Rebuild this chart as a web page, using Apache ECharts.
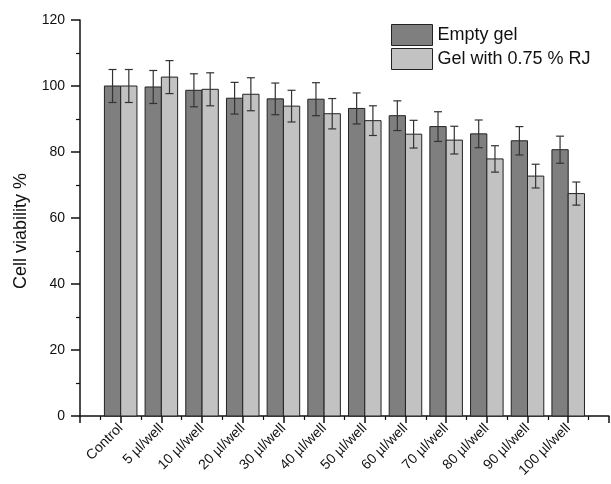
<!DOCTYPE html>
<html>
<head>
<meta charset="utf-8">
<script src="https://cdn.jsdelivr.net/npm/echarts@6/dist/echarts.min.js"></script>
<style>
  html, body { margin: 0; padding: 0; background: #fff; }
  #chart { width: 611px; height: 484px; }
</style>
</head>
<body>
<div id="chart"></div>
<script>
// Cell viability for each dose (index 1..12 on the x scale)
const categories = ['Control', '5 µl/well', '10 µl/well', '20 µl/well', '30 µl/well', '40 µl/well',
  '50 µl/well', '60 µl/well', '70 µl/well', '80 µl/well', '90 µl/well', '100 µl/well'];
const emptyGel    = [100, 99.7, 98.7, 96.3, 96.1, 96.0, 93.2, 91.0, 87.7, 85.5, 83.4, 80.7];
const emptyGelErr = [5.0, 5.0, 5.0, 4.8, 4.8, 5.0, 4.7, 4.5, 4.5, 4.2, 4.3, 4.1];
const rjGel       = [100, 102.7, 99.0, 97.5, 93.9, 91.6, 89.5, 85.4, 83.6, 77.9, 72.7, 67.4];
const rjGelErr    = [5.0, 5.0, 5.0, 5.0, 4.8, 4.6, 4.5, 4.2, 4.2, 4.0, 3.6, 3.5];

const seriesNames = ['Empty gel', 'Gel with 0.75 % RJ'];
const fills = ['#7f7f7f', '#c2c2c2'];
const edge = '#222';
const font = 'Liberation Sans, Arial, sans-serif';

const BAR_W = 0.4;   // bar width in x units

function rows(values, errs) {
  return values.map((v, i) => [i + 1, v, errs[i]]);
}

function barRenderer(offset, fill) {
  return function (params, api) {
    const x = api.value(0), v = api.value(1), e = api.value(2);
    const x0 = x + offset, x1 = x + offset + BAR_W;
    const pTop = api.coord([x0, v]);
    const pBase = api.coord([x1, 0]);
    const cx = api.coord([x0 + BAR_W / 2, 0])[0];
    const yHi = api.coord([x, v + e])[1];
    const yLo = api.coord([x, v - e])[1];
    const cap = 4;
    return {
      type: 'group',
      children: [
        {
          type: 'rect',
          shape: { x: pTop[0], y: pTop[1], width: pBase[0] - pTop[0], height: pBase[1] - pTop[1] },
          style: { fill: fill, stroke: edge, lineWidth: 1 }
        },
        { type: 'line', shape: { x1: cx, y1: yHi, x2: cx, y2: yLo }, style: { stroke: '#333', lineWidth: 1.2 } },
        { type: 'line', shape: { x1: cx - cap, y1: yHi, x2: cx + cap, y2: yHi }, style: { stroke: '#333', lineWidth: 1.2 } },
        { type: 'line', shape: { x1: cx - cap, y1: yLo, x2: cx + cap, y2: yLo }, style: { stroke: '#333', lineWidth: 1.2 } }
      ]
    };
  };
}

const chart = echarts.init(document.getElementById('chart'), null, { renderer: 'canvas' });

chart.setOption({
  animation: false,
  backgroundColor: '#fff',
  grid: { left: 80, right: -2, top: 20, bottom: 68, containLabel: false },
  legend: {
    orient: 'vertical',
    left: 391,
    top: 24,
    padding: 0,
    itemWidth: 41,
    itemHeight: 21,
    itemGap: 2,
    icon: 'rect',
    textStyle: { fontFamily: font, fontSize: 18, color: '#111' },
    data: seriesNames.map((n, i) => ({
      name: n,
      itemStyle: { color: fills[i], borderColor: edge, borderWidth: 1 }
    }))
  },
  xAxis: {
    type: 'value',
    min: 0,
    max: 13,
    interval: 1,
    axisLine: { lineStyle: { color: '#111', width: 1.5 } },
    axisTick: { show: true, length: 7, lineStyle: { color: '#111', width: 1.5 } },
    minorTick: { show: true, splitNumber: 2, length: 4, lineStyle: { color: '#111', width: 1.2 } },
    splitLine: { show: false },
    axisLabel: {
      rotate: 45,
      margin: 10,
      fontFamily: font,
      fontSize: 14,
      color: '#111',
      showMinLabel: true,
      showMaxLabel: true,
      formatter: v => categories[v - 1] || ''
    }
  },
  yAxis: {
    type: 'value',
    min: 0,
    max: 120,
    interval: 20,
    name: 'Cell viability %',
    nameLocation: 'middle',
    nameGap: 50,
    nameRotate: 90,
    nameTextStyle: { fontFamily: font, fontSize: 18, color: '#111', padding: [0, 26, 0, 0] },
    axisLine: { show: true, lineStyle: { color: '#111', width: 1.5 } },
    axisTick: { show: true, length: 9, lineStyle: { color: '#111', width: 1.5 } },
    minorTick: { show: true, splitNumber: 2, length: 4, lineStyle: { color: '#111', width: 1.2 } },
    splitLine: { show: false },
    axisLabel: { margin: 15, fontFamily: font, fontSize: 14, color: '#111' }
  },
  series: [
    {
      name: seriesNames[0],
      type: 'custom',
      itemStyle: { color: fills[0], borderColor: edge },
      renderItem: barRenderer(-BAR_W, fills[0]),
      encode: { x: 0, y: 1 },
      data: rows(emptyGel, emptyGelErr)
    },
    {
      name: seriesNames[1],
      type: 'custom',
      itemStyle: { color: fills[1], borderColor: edge },
      renderItem: barRenderer(0, fills[1]),
      encode: { x: 0, y: 1 },
      data: rows(rjGel, rjGelErr)
    }
  ]
});
</script>
</body>
</html>
